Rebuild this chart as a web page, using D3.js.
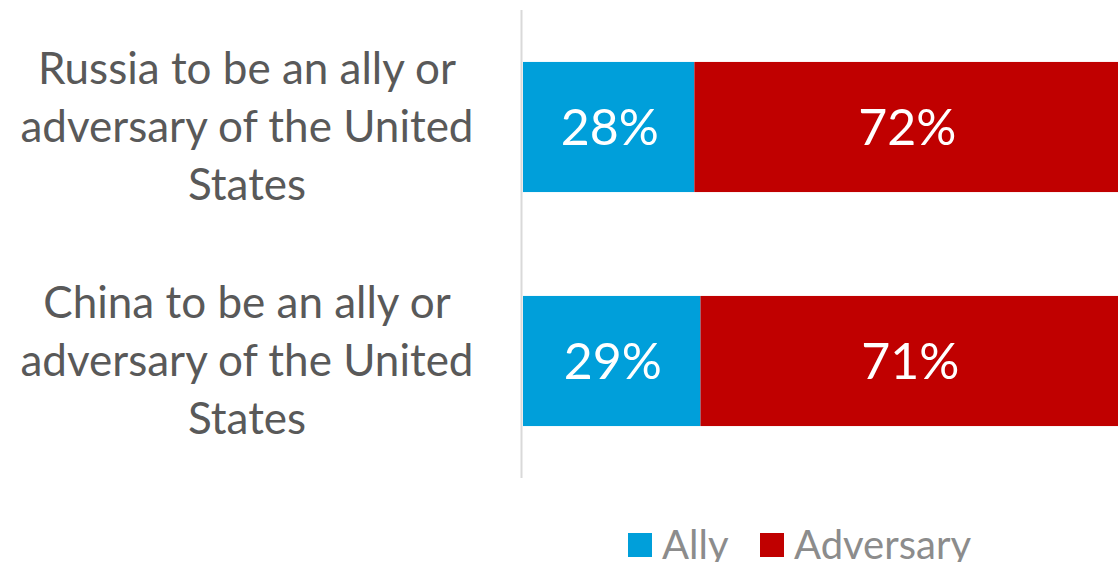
<!DOCTYPE html>
<html>
<head>
<meta charset="utf-8">
<script src="https://cdn.jsdelivr.net/npm/d3@7"></script>
<style>
  body { margin: 0; background: #fff; }
  svg { display: block; font-family: Lato, "Open Sans", sans-serif; }
</style>
</head>
<body>
<svg id="chart" width="1118" height="562"></svg>
<script>
// chart data
var categories = [
  ["Russia to be an ally or", "adversary of the United", "States"],
  ["China to be an ally or", "adversary of the United", "States"]
];
var seriesNames = ["Ally", "Adversary"];
var allyValues = [28, 29];
var adversaryValues = [72, 71];
var colors = ["#009fda", "#c00000"];

var svg = d3.select("#chart");

// bars run a bit past the right edge, like the original
var x = d3.scaleLinear().domain([0, 100]).range([523, 1135]);
var y = d3.scaleBand()
  .domain(d3.range(categories.length))
  .range([10, 478])
  .paddingInner(0.444)
  .paddingOuter(0.222);

// build stack rows
var rows = categories.map(function(c, i) {
  return { i: i, Ally: allyValues[i], Adversary: adversaryValues[i] };
});
var stack = d3.stack().keys(seriesNames)(rows);

var layers = svg.selectAll("g.layer")
  .data(stack)
  .enter()
  .append("g")
  .attr("class", "layer")
  .attr("fill", function(d, i) { return colors[i]; });

layers.selectAll("rect")
  .data(function(d) { return d; })
  .enter()
  .append("rect")
  .attr("x", function(d) { return x(d[0]); })
  .attr("y", function(d) { return y(d.data.i); })
  .attr("width", function(d) { return x(d[1]) - x(d[0]); })
  .attr("height", y.bandwidth());

layers.selectAll("text")
  .data(function(d) { return d; })
  .enter()
  .append("text")
  .attr("x", function(d) { return (x(d[0]) + Math.min(x(d[1]), 1118)) / 2 + 1; })
  .attr("y", function(d) { return y(d.data.i) + y.bandwidth() / 2; })
  .attr("dy", "0.35em")
  .attr("text-anchor", "middle")
  .attr("fill", "#fff")
  .attr("font-size", 50)
  .text(function(d) { return (d[1] - d[0]) + "%"; });

// category axis line
svg.append("line")
  .attr("x1", 521.5).attr("x2", 521.5)
  .attr("y1", 10).attr("y2", 478)
  .attr("stroke", "#d9d9d9")
  .attr("stroke-width", 2);

// category labels
categories.forEach(function(lines, i) {
  var cy = y(i) + y.bandwidth() / 2;
  var t = svg.append("text")
    .attr("text-anchor", "middle")
    .attr("fill", "#595959")
    .attr("font-size", 44);
  lines.forEach(function(l, j) {
    t.append("tspan")
      .attr("x", 247)
      .attr("y", cy + (j - 1) * 58)
      .attr("dy", "0.35em")
      .text(l);
  });
});

// legend
var legendX = [628, 760];
var legend = svg.selectAll("g.legend")
  .data(seriesNames)
  .enter()
  .append("g")
  .attr("class", "legend")
  .attr("transform", function(d, i) { return "translate(" + legendX[i] + ",533)"; });

legend.append("rect")
  .attr("width", 24).attr("height", 24)
  .attr("fill", function(d, i) { return colors[i]; });

legend.append("text")
  .attr("x", 34)
  .attr("y", 12)
  .attr("dy", "0.36em")
  .attr("fill", "#8c8c8c")
  .attr("font-size", 40)
  .text(function(d) { return d; });
</script>
</body>
</html>
